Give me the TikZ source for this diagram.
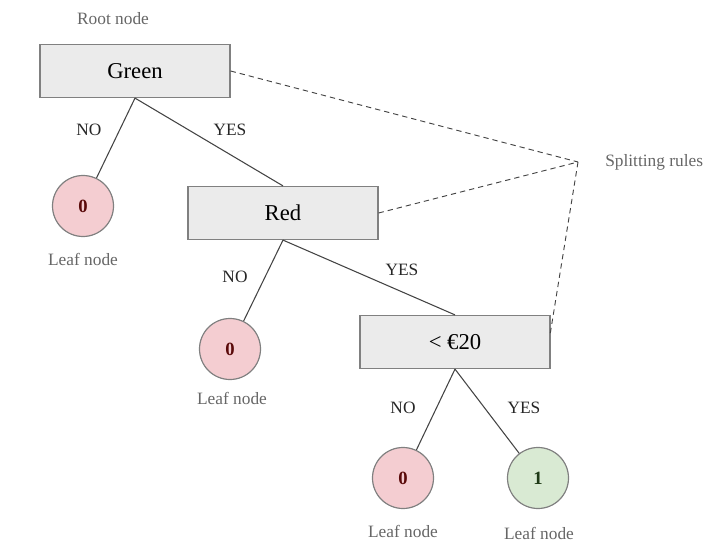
\documentclass[tikz,border=0pt]{standalone}
\usepackage{fontspec}
\setmainfont{Liberation Serif}
\definecolor{boxfill}{HTML}{EBEBEB}
\definecolor{boxline}{HTML}{808080}
\definecolor{pinkfill}{HTML}{F4CDD1}
\definecolor{greenfill}{HTML}{D9EAD3}
\definecolor{darkred}{HTML}{5A0A0A}
\definecolor{darkgreen}{HTML}{1F3A16}
\definecolor{labelgray}{HTML}{666666}
\definecolor{edgegray}{HTML}{444444}
\tikzset{
  rulebox/.style={draw=boxline, fill=boxfill, line width=0.9pt, minimum width=190*0.75pt, minimum height=53*0.75pt, inner sep=0pt, font=\fontsize{17}{20}\selectfont},
  leaf0/.style={circle, draw=boxline, fill=pinkfill, line width=0.9pt, minimum size=61*0.75pt, inner sep=0pt, font=\fontsize{14}{16}\selectfont\bfseries, text=darkred},
  leaf1/.style={circle, draw=boxline, fill=greenfill, line width=0.9pt, minimum size=61*0.75pt, inner sep=0pt, font=\fontsize{14}{16}\selectfont\bfseries, text=darkgreen},
  note/.style={text=labelgray, font=\fontsize{13}{15}\selectfont, inner sep=0pt},
  edgelbl/.style={text=black!85, font=\fontsize{13}{15}\selectfont, inner sep=0pt},
  edge/.style={draw=edgegray, line width=0.8pt},
  ruleline/.style={draw=edgegray, line width=0.7pt, dashed, dash pattern=on 4pt off 3pt}
}
\begin{document}
\begin{tikzpicture}[x=0.75pt,y=-0.75pt]
\useasboundingbox (0,0) rectangle (709,552);
% decision boxes
\node[rulebox] (green) at (135,71) {Green};
\node[rulebox] (red) at (283,213) {Red};
\node[rulebox] (price) at (455,342) {< €20};
% leaves
\node[leaf0] (l1) at (83,206) {0};
\node[leaf0] (l2) at (230,349) {0};
\node[leaf0] (l3) at (403,478) {0};
\node[leaf1] (l4) at (538,478) {1};
% notes
\node[note] (root) at (113,19) {Root node};
\node[note] (lt1) at (83,259) {Leaf node};
\node[note] (lt2) at (232,398) {Leaf node};
\node[note] (lt3) at (403,531) {Leaf node};
\node[note] (lt4) at (539,533) {Leaf node};
\node[note, anchor=west] (split) at (605,162) {Splitting rules};
\coordinate (sp) at (578,162);
\coordinate (pricecorner) at (550,335);
% edges
\draw[edge] (green.south) -- (l1);
\draw[edge] (green.south) -- (red.north);
\draw[edge] (red.south) -- (l2);
\draw[edge] (red.south) -- (price.north);
\draw[edge] (price.south) -- (l3);
\draw[edge] (price.south) -- (l4);
% edge labels
\node[edgelbl] (n1) at (89,130) {NO};
\node[edgelbl] (y1) at (230,130) {YES};
\node[edgelbl] (n2) at (235,277) {NO};
\node[edgelbl] (y2) at (402,270) {YES};
\node[edgelbl] (n3) at (403,408) {NO};
\node[edgelbl] (y3) at (524,408) {YES};
% splitting rule pointers
\draw[ruleline] (green.east) -- (sp);
\draw[ruleline] (red.east) -- (sp);
\draw[ruleline] (sp) -- (pricecorner);
\end{tikzpicture}
\end{document}
